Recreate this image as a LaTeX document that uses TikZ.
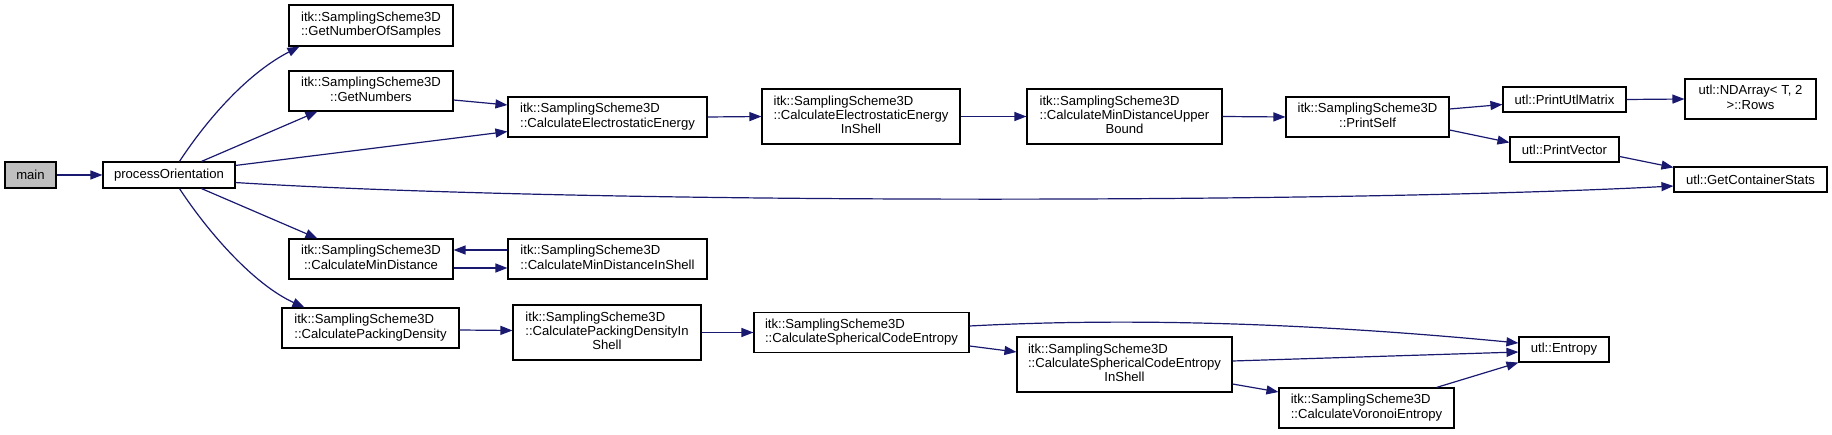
\documentclass[tikz,border=0pt]{standalone}
\usepackage{fontspec}
\setmainfont{Liberation Sans}
\usetikzlibrary{arrows.meta,calc}
\definecolor{edgeblue}{HTML}{191970}
\definecolor{maingray}{HTML}{BFBFBF}
\newcommand{\tl}[1]{\begin{tabular}{@{}l@{}}#1\end{tabular}}
\newcommand{\cl}[1]{\multicolumn{1}{@{}c@{}}{#1}}
\begin{document}
\begin{tikzpicture}[x=1pt,y=-1pt,
  fn/.style={draw=black, line width=1.1pt, fill=white, inner sep=0pt, text=black,
    font=\fontsize{13.1pt}{14.3pt}\selectfont},
  e/.style={draw=edgeblue, line width=1.2pt, -{Triangle[length=12pt,width=9pt]}}]
\useasboundingbox (0,0) rectangle (1832,435);

\node[fn, fill=maingray, minimum width=51pt, minimum height=26pt] (main) at (30.5,175) {main};
\node[fn, minimum width=132pt, minimum height=26pt] (proc) at (169,175) {processOrientation};
\node[fn, minimum width=164pt, minimum height=41pt] (gnos) at (371,25.5) {\tl{itk::SamplingScheme3D\\::GetNumberOfSamples}};
\node[fn, minimum width=164pt, minimum height=40pt] (gn) at (371,91) {\tl{itk::SamplingScheme3D\\\cl{::GetNumbers}}};
\node[fn, minimum width=164pt, minimum height=40pt] (cmd) at (371,259) {\tl{itk::SamplingScheme3D\\\cl{::CalculateMinDistance}}};
\node[fn, minimum width=177pt, minimum height=40pt] (cpd) at (370.5,328) {\tl{itk::SamplingScheme3D\\::CalculatePackingDensity}};
\node[fn, minimum width=199pt, minimum height=40pt] (cee) at (607.5,117) {\tl{itk::SamplingScheme3D\\::CalculateElectrostaticEnergy}};
\node[fn, minimum width=199pt, minimum height=40pt] (cmdis) at (607.5,259) {\tl{itk::SamplingScheme3D\\::CalculateMinDistanceInShell}};
\node[fn, minimum width=188pt, minimum height=55pt] (cpdis) at (607,332.5) {\tl{itk::SamplingScheme3D\\::CalculatePackingDensityIn\\\cl{Shell}}};
\node[fn, minimum width=198pt, minimum height=55pt] (ceeis) at (861,116.5) {\tl{itk::SamplingScheme3D\\::CalculateElectrostaticEnergy\\\cl{InShell}}};
\node[fn, minimum width=215pt, minimum height=40pt] (csce) at (861.5,332.5) {\tl{itk::SamplingScheme3D\\::CalculateSphericalCodeEntropy}};
\node[fn, minimum width=195pt, minimum height=55pt] (cmdub) at (1124.5,116.5) {\tl{itk::SamplingScheme3D\\::CalculateMinDistanceUpper\\\cl{Bound}}};
\node[fn, minimum width=215pt, minimum height=55pt] (csceis) at (1124.5,364.5) {\tl{itk::SamplingScheme3D\\::CalculateSphericalCodeEntropy\\\cl{InShell}}};
\node[fn, minimum width=163pt, minimum height=40pt] (ps) at (1367.5,117) {\tl{itk::SamplingScheme3D\\\cl{::PrintSelf}}};
\node[fn, minimum width=175pt, minimum height=40pt] (cve) at (1366.5,408) {\tl{itk::SamplingScheme3D\\::CalculateVoronoiEntropy}};
\node[fn, minimum width=123pt, minimum height=25pt] (pum) at (1564.5,99.5) {utl::PrintUtlMatrix};
\node[fn, minimum width=109pt, minimum height=25pt] (pv) at (1564.5,149.5) {utl::PrintVector};
\node[fn, minimum width=90pt, minimum height=25pt] (ent) at (1564,349.5) {utl::Entropy};
\node[fn, minimum width=131pt, minimum height=40pt] (nda) at (1750.5,99) {\begin{tabular}{@{}c@{}}utl::NDArray\textless{} T, 2\\\textgreater::Rows\end{tabular}};
\node[fn, minimum width=153pt, minimum height=25pt] (gcs) at (1750.5,179.5) {utl::GetContainerStats};

% edges
\draw[e] (main.east) -- (proc.west);
\draw[e] ($(proc.north west)+(77,0)$) .. controls (210,115) and (250,72) .. ($(gnos.south west)+(11,0)$);
\draw[e] ($(proc.north west)+(99,0)$) -- ($(gn.south west)+(29,0)$);
\draw[e] ($(proc.north east)+(0,4)$) -- ($(cee.south west)+(0,-6)$);
\draw[e] ($(proc.south east)+(0,-6)$) .. controls (600,205) and (1350,203) .. ($(gcs.west)+(0,6.5)$);
\draw[e] ($(proc.south west)+(99,0)$) -- ($(cmd.north west)+(29,0)$);
\draw[e] ($(proc.south west)+(77,0)$) .. controls (210,235) and (255,285) .. ($(cpd.north west)+(23,0)$);
\draw[e] ($(gn.east)+(0,9)$) -- ($(cee.west)+(0,-12)$);
\draw[e] ($(cmdis.west)+(0,-9)$) -- ($(cmd.east)+(0,-9)$);
\draw[e] ($(cmd.east)+(0,9)$) -- ($(cmdis.west)+(0,9)$);
\draw[e] ($(cpd.east)+(0,2)$) -- ($(cpdis.west)+(0,-2)$);
\draw[e] (cpdis.east) -- (csce.west);
\draw[e] ($(csce.east)+(0,-6.5)$) .. controls (1120,318) and (1300,322) .. ($(ent.west)+(0,-6.5)$);
\draw[e] ($(csce.east)+(0,13.5)$) -- ($(csceis.west)+(0,-12.5)$);
\draw[e] ($(csceis.east)+(0,-3.5)$) -- ($(ent.west)+(0,2.5)$);
\draw[e] ($(csceis.east)+(0,19.5)$) -- ($(cve.west)+(0,-16)$);
\draw[e] ($(cve.north east)+(-18,0)$) -- (ent.south west);
\draw[e] (cee.east) -- (ceeis.west);
\draw[e] (ceeis.east) -- (cmdub.west);
\draw[e] (cmdub.east) -- (ps.west);
\draw[e] ($(ps.east)+(0,-8)$) -- ($(pum.west)+(0,5)$);
\draw[e] ($(ps.east)+(0,13)$) -- ($(pv.west)+(0,-7)$);
\draw[e] (pum.east) -- (nda.west);
\draw[e] ($(pv.east)+(0,7)$) -- ($(gcs.north west)+(0,1)$);
\end{tikzpicture}
\end{document}
